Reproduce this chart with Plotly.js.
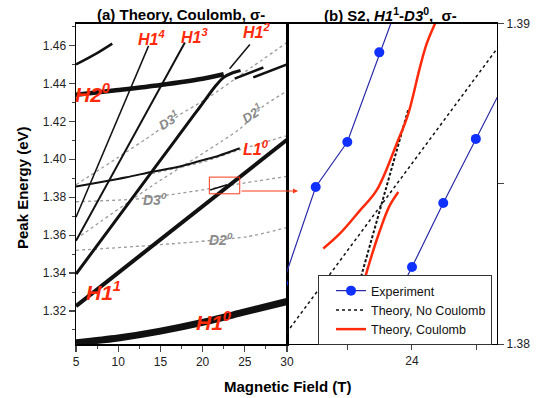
<!DOCTYPE html>
<html><head><meta charset="utf-8">
<script src="https://cdn.plot.ly/plotly-3.0.1.min.js"></script>
<style>html,body{margin:0;padding:0;background:#fff;}#chart{width:541px;height:398px;}</style>
</head><body><div id="chart"></div>
<script>
// ---------- Panel (a): Theory, Coulomb ----------
const h10B = [5, 10, 15, 20, 25, 30];
const h10E = [1.3033, 1.3058, 1.3094, 1.3140, 1.3195, 1.3250];
const h11B = [5, 30];
const h11E = [1.3226, 1.4103];
const h12B = [5, 10, 15, 19, 20.5, 21.5, 22.5, 23.5, 24.5];
const h12E = [1.3395, 1.3695, 1.3995, 1.4235, 1.4325, 1.4385, 1.4432, 1.4455, 1.4468];
const h12LeadB = [23.2, 25.6];
const h12LeadE = [1.4477, 1.4605];
const h13B = [5, 17.9];
const h13E = [1.3570, 1.4616];
const h14B = [5, 13.6];
const h14E = [1.3695, 1.4598];
const h20B = [5, 10, 15, 20, 22.5];
const h20E = [1.4340, 1.4365, 1.4392, 1.4425, 1.4448];
const upAB = [23.8, 27.2];
const upAE = [1.4425, 1.4484];
const upBB = [26, 30];
const upBE = [1.4432, 1.4500];
const topLB = [5, 7.5, 9.3];
const topLE = [1.4500, 1.4560, 1.4610];
const l10B = [5, 8, 11, 14.2, 17.3, 20, 22, 24.4];
const l10E = [1.3857, 1.3880, 1.3905, 1.3936, 1.3962, 1.3995, 1.4020, 1.4058];
const boxBranchB = [20.9, 22.9];
const boxBranchE = [1.3838, 1.3866];
// dotted (no Coulomb) lines
const d20B = [5, 12, 17.3, 25.3, 30];
const d20E = [1.3520, 1.3540, 1.3558, 1.3592, 1.3640];
const d30B = [5, 12, 17.3, 24, 30];
const d30E = [1.3776, 1.3790, 1.3820, 1.3868, 1.3910];
const d31B = [5, 10, 14.2, 17.3, 20.5, 25, 30];
const d31E = [1.3866, 1.4010, 1.4135, 1.4235, 1.4320, 1.4460, 1.4616];
const d21B = [5, 14, 24.4, 27.2, 30];
const d21E = [1.3580, 1.3860, 1.4160, 1.4280, 1.4360];
const dl1B = [14, 20, 24.4, 30];
const dl1E = [1.3925, 1.3985, 1.4050, 1.4125];

// ---------- Panel (b): S2, H1^1-D3^0 ----------
const expAB = [22.0, 22.507, 22.997, 23.493, 24.0];
const expAE = [1.3819, 1.3849, 1.3863, 1.3891, 1.3918];
const expBB = [23.5, 24.0, 24.485, 24.99, 25.5];
const expBE = [1.3804, 1.3824, 1.3844, 1.3864, 1.3884];
const ncAB = [22.0, 25.35];
const ncAE = [1.3802, 1.3893];
const ncBB = [23.0, 23.94];
const ncBE = [1.3806, 1.3873];
const cAB = [22.625, 22.884, 23.194, 23.453, 23.763, 23.943, 24.124, 24.228, 24.357, 24.40];
const cAE = [1.38298, 1.38345, 1.38417, 1.3848, 1.38625, 1.38719, 1.38864, 1.38937, 1.39, 1.3902];
const cBB = [23.10, 23.22, 23.32, 23.504, 23.65, 23.788];
const cBE = [1.3808, 1.38168, 1.3824, 1.38355, 1.3843, 1.38474];

const legendNames = ['Experiment', 'Theory, No Coulomb', 'Theory, Coulomb'];

const FONT = 'Arial, "Liberation Sans", sans-serif';
const RED = '#ff2a0a';
const GRAY = '#8a8a8a';
const BLK = '#111111';

function solid(x, y, w, shape) {
  return {x: x, y: y, xaxis: 'x', yaxis: 'y', mode: 'lines', showlegend: false, hoverinfo: 'skip',
    line: {color: BLK, width: w, shape: shape || 'linear', smoothing: 0.8}};
}
function dotted(x, y) {
  return {x: x, y: y, xaxis: 'x', yaxis: 'y', mode: 'lines', showlegend: false, hoverinfo: 'skip',
    line: {color: '#9a9a9a', width: 1.3, dash: 'dot', shape: 'spline', smoothing: 0.6}};
}

const traces = [
  dotted(d20B, d20E), dotted(d30B, d30E), dotted(d31B, d31E), dotted(d21B, d21E), dotted(dl1B, dl1E),
  solid(h10B, h10E, 7, 'spline'),
  solid(h11B, h11E, 4),
  solid(h12B, h12E, 3, 'spline'),
  solid(h12LeadB, h12LeadE, 1.5),
  solid(h13B, h13E, 2),
  solid(h14B, h14E, 1.5),
  solid(h20B, h20E, 4.5, 'spline'),
  solid(upAB, upAE, 2.5),
  solid(upBB, upBE, 2.5),
  solid(topLB, topLE, 2.5, 'spline'),
  solid(l10B, l10E, 2, 'spline'),
  solid(boxBranchB, boxBranchE, 1.5),
  // panel b
  {x: ncAB, y: ncAE, xaxis: 'x2', yaxis: 'y2', mode: 'lines', name: legendNames[1], legendrank: 2,
    line: {color: '#111', width: 1.5, dash: 'dot'}},
  {x: ncBB, y: ncBE, xaxis: 'x2', yaxis: 'y2', mode: 'lines', showlegend: false,
    line: {color: '#111', width: 2, dash: '3px,2px'}},
  {x: cAB, y: cAE, xaxis: 'x2', yaxis: 'y2', mode: 'lines', name: legendNames[2], legendrank: 3,
    line: {color: RED, width: 2.5, shape: 'spline'}},
  {x: cBB, y: cBE, xaxis: 'x2', yaxis: 'y2', mode: 'lines', showlegend: false,
    line: {color: RED, width: 2.5, shape: 'spline'}},
  {x: expAB, y: expAE, xaxis: 'x2', yaxis: 'y2', mode: 'lines+markers', name: legendNames[0], legendrank: 1,
    line: {color: '#2a2aa8', width: 1.2}, marker: {color: '#1030ff', size: 10}},
  {x: expBB, y: expBE, xaxis: 'x2', yaxis: 'y2', mode: 'lines+markers', showlegend: false,
    line: {color: '#2a2aa8', width: 1.2}, marker: {color: '#1030ff', size: 10}}
];

const W = 541, H = 398;
const px = v => v / W;
const py = v => 1 - v / H;

function lab(x, y, text, size, color, angle) {
  return {x: x, y: y, xref: 'x', yref: 'y', text: text, showarrow: false, textangle: angle || 0,
    xanchor: 'center', yanchor: 'middle', font: {family: FONT, size: size, color: color}};
}
function paperText(x, y, text, angle) {
  return {x: px(x), y: py(y), xref: 'paper', yref: 'paper', showarrow: false, textangle: angle || 0,
    xanchor: 'center', yanchor: 'middle', text: text, font: {family: FONT, size: 15, color: '#000'}};
}

const annotations = [
  paperText(181, 15, '<b>(a) Theory, Coulomb, σ-</b>'),
  paperText(390, 15, '<b>(b) S2, <i>H1</i><sup>1</sup>-<i>D3</i><sup>0</sup>,  σ-</b>'),
  paperText(288, 386, '<b>Magnetic Field (T)</b>'),
  paperText(22, 188, '<b>Peak Energy (eV)</b>', -90),
  lab(7.05, 1.4350, '<b><i>H2<sup>0</sup></i></b>', 21, RED),
  lab(14.0, 1.4640, '<b><i>H1<sup>4</sup></i></b>', 16, RED),
  lab(19.0, 1.4650, '<b><i>H1<sup>3</sup></i></b>', 16, RED),
  lab(26.4, 1.4675, '<b><i>H1<sup>2</sup></i></b>', 16, RED),
  lab(26.3, 1.4060, '<b><i>L1<sup>0</sup></i></b>', 16, RED),
  lab(8.3, 1.3305, '<b><i>H1<sup>1</sup></i></b>', 21, RED),
  lab(21.3, 1.3145, '<b><i>H1<sup>0</sup></i></b>', 21, RED),
  lab(16.0, 1.4205, '<b><i>D3<sup>1</sup></i></b>', 13, GRAY, -33),
  lab(25.9, 1.4245, '<b><i>D2<sup>1</sup></i></b>', 13, GRAY, -33),
  lab(14.4, 1.3790, '<b><i>D3<sup>0</sup></i></b>', 14, GRAY),
  lab(22.2, 1.3580, '<b><i>D2<sup>0</sup></i></b>', 14, GRAY),
  {x: px(298), y: py(191), xref: 'paper', yref: 'paper', text: '', showarrow: true,
    ax: -58, ay: 0, arrowhead: 2, arrowsize: 1, arrowwidth: 1, arrowcolor: '#ff3a1a'}
];

const shapes = [
  {type: 'rect', xref: 'x', yref: 'y', x0: 20.8, x1: 24.4, y0: 1.3818, y1: 1.3906,
    line: {color: '#ff3a1a', width: 1}, layer: 'above'}
];

const tickFont = {family: FONT, size: 12, color: '#222'};
const yDom = [py(344), py(23.5)];

const layout = {
  width: W, height: H,
  margin: {l: 0, r: 0, t: 0, b: 0},
  paper_bgcolor: '#fff', plot_bgcolor: '#fff',
  font: {family: FONT},
  xaxis: {domain: [px(76), px(287)], range: [5, 30], anchor: 'y',
    tickmode: 'linear', tick0: 5, dtick: 5, ticks: 'outside', ticklen: 6, tickwidth: 1.2,
    minor: {dtick: 2.5, tick0: 5, ticks: 'outside', ticklen: 3, tickwidth: 1},
    showline: true, linewidth: 1.5, linecolor: '#000', mirror: true,
    showgrid: false, zeroline: false, tickfont: tickFont},
  yaxis: {domain: yDom, range: [1.3026, 1.4716], anchor: 'x',
    tickmode: 'linear', tick0: 1.30, dtick: 0.02, tickformat: '.2f',
    ticks: 'outside', ticklen: 6, tickwidth: 1.2,
    minor: {dtick: 0.01, tick0: 1.30, ticks: 'outside', ticklen: 3, tickwidth: 1},
    showline: true, linewidth: 1.5, linecolor: '#000', mirror: true,
    showgrid: false, zeroline: false, tickfont: tickFont},
  xaxis2: {domain: [px(287), px(497)], range: [22.062, 25.318], anchor: 'y2',
    tickmode: 'array', tickvals: [23, 24, 25], ticktext: ['', '24', ''],
    ticks: 'outside', ticklen: 5, tickwidth: 1,
    showline: true, linewidth: 1.2, linecolor: '#000', mirror: true,
    showgrid: false, zeroline: false, tickfont: tickFont},
  yaxis2: {domain: yDom, range: [1.38, 1.39], anchor: 'x2', side: 'right',
    tickmode: 'array', tickvals: [1.38, 1.385, 1.39], ticktext: ['1.38', '', '1.39'],
    ticks: 'outside', ticklen: 6, tickwidth: 1,
    showline: true, linewidth: 1.2, linecolor: '#000', mirror: true,
    showgrid: false, zeroline: false, tickfont: tickFont},
  legend: {x: px(318), y: py(345), xanchor: 'left', yanchor: 'bottom',
    bgcolor: '#fff', bordercolor: '#333', borderwidth: 1, indentation: 12,
    font: {family: FONT, size: 12.5, color: '#111'}, tracegroupgap: 0, itemwidth: 30},
  showlegend: true,
  annotations: annotations,
  shapes: shapes
};

Plotly.newPlot('chart', traces, layout, {staticPlot: true, displayModeBar: false});
</script>
</body></html>
